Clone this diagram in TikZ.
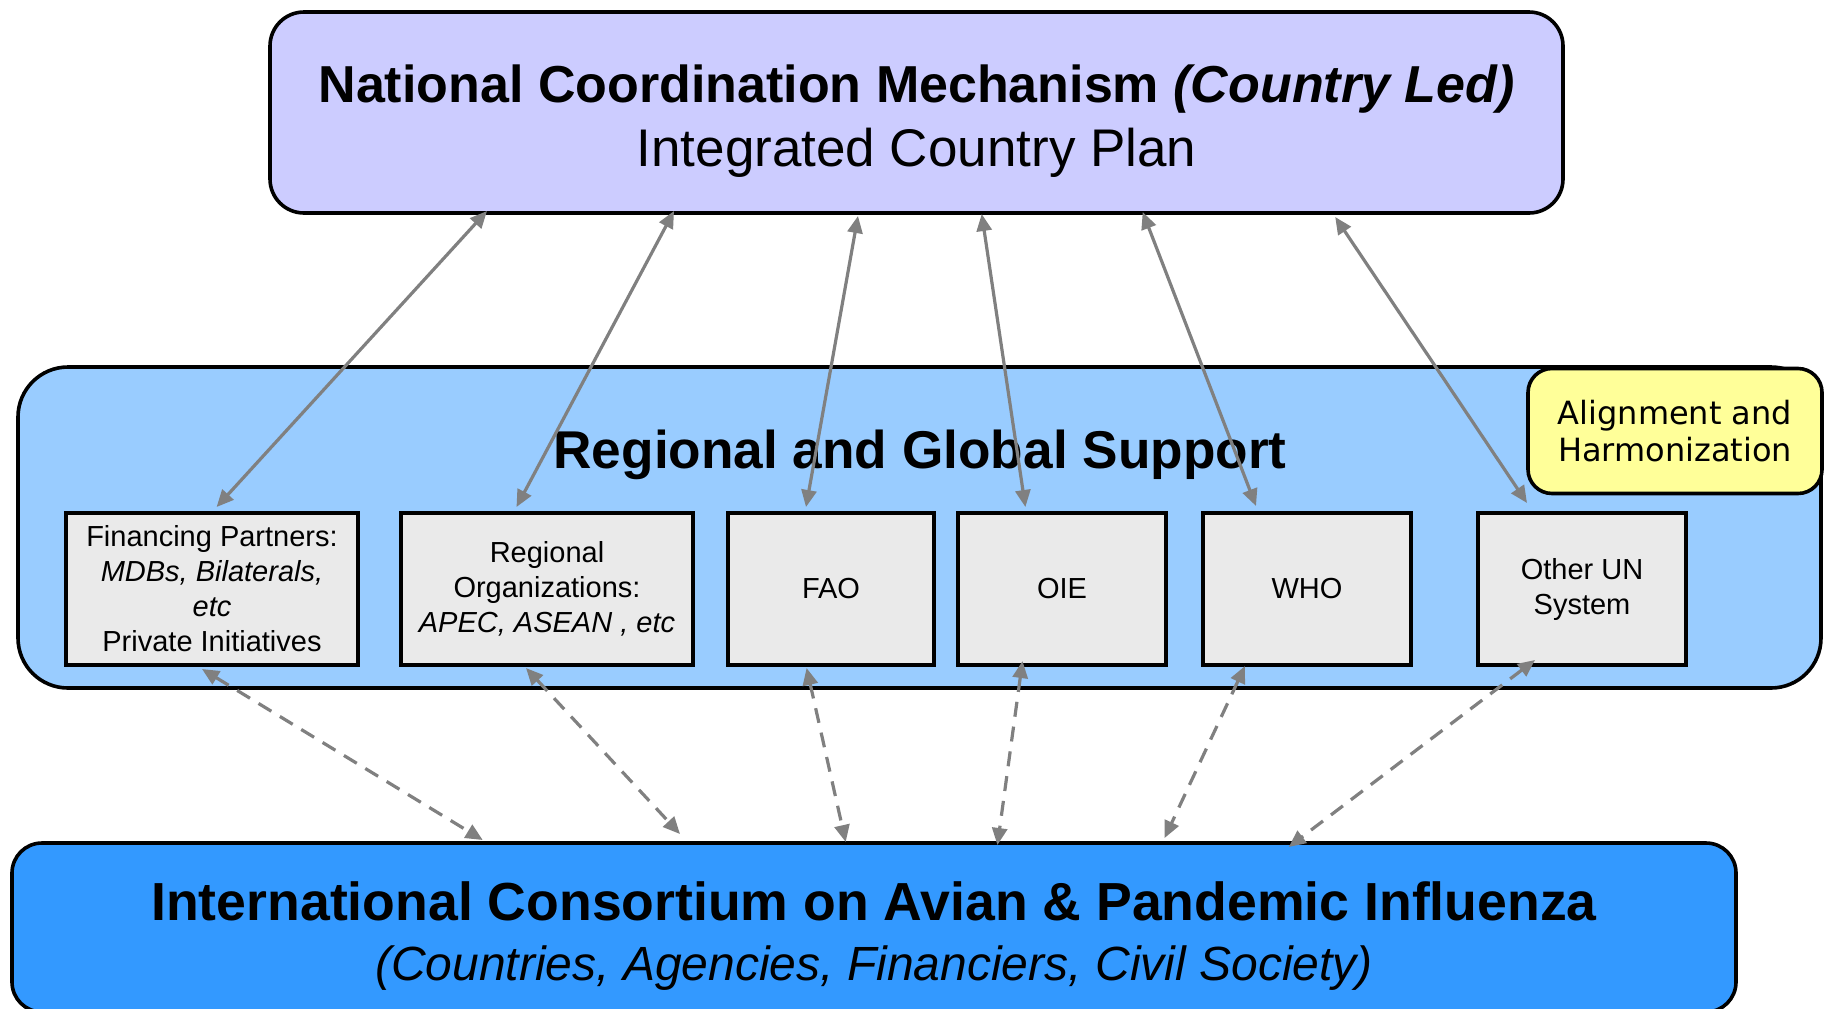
\documentclass[tikz,border=0pt]{standalone}
\usepackage{fontspec}
\setmainfont{Liberation Sans}
\newfontfamily\vfont{DejaVu Sans}
\usetikzlibrary{arrows.meta,calc}
\definecolor{topfill}{HTML}{CCCCFF}
\definecolor{midfill}{HTML}{99CCFF}
\definecolor{yelfill}{HTML}{FFFF99}
\definecolor{grayfill}{HTML}{EAEAEA}
\definecolor{botfill}{HTML}{3399FF}
\definecolor{arrowgray}{HTML}{808080}
\begin{document}
\begin{tikzpicture}[x=0.5pt,y=-0.5pt,
  box/.style={draw=black, line width=1.8pt, inner sep=0pt, outer sep=0pt, align=center},
  bigtext/.style={font=\fontsize{26.5pt}{32pt}\selectfont, align=center, inner sep=0pt},
  smallbox/.style={box, fill=grayfill, minimum height=76pt, font=\fontsize{14.5pt}{17.5pt}\selectfont},
  link/.style={draw=arrowgray, line width=1.6pt, >={Triangle[length=8.5pt,width=7.5pt]}, <->},
  dlink/.style={link, dash pattern=on 7.5pt off 5pt}]
\useasboundingbox (0,0) rectangle (1826,1008);

% middle container
\node[box, fill=midfill, rounded corners=25pt, minimum width=901.5pt, minimum height=160.5pt] (rgs) at (919.5,527.5) {};
\node[bigtext, font=\fontsize{26.6pt}{32pt}\selectfont\bfseries] (rgstitle) at (920,455) {Regional and Global Support};
\node[box, fill=yelfill, rounded corners=12pt, minimum width=147pt, minimum height=62.5pt,
      font=\vfont\fontsize{16pt}{18.75pt}\selectfont] (align) at (1675,431) {Alignment and\\Harmonization};

% small boxes
\node[smallbox, minimum width=146pt] (fin) at (212,589) {Financing Partners:\\\textit{MDBs, Bilaterals,}\\\textit{etc}\\Private Initiatives};
\node[smallbox, minimum width=146pt] (reg) at (547,589) {Regional\\Organizations:\\\textit{APEC, ASEAN , etc}};
\node[smallbox, minimum width=103pt] (fao) at (831,589) {FAO};
\node[smallbox, minimum width=104pt] (oie) at (1062,589) {OIE};
\node[smallbox, minimum width=104pt] (who) at (1307,589) {WHO};
\node[smallbox, minimum width=104pt] (oun) at (1582,589) {Other UN\\System};

% top box
\node[box, fill=topfill, rounded corners=17pt, minimum width=646.5pt, minimum height=100.5pt] (ncm) at (916.5,112.5) {};
\node[bigtext] (ncmtext) at (916.5,121)
  {{\fontsize{26pt}{32pt}\selectfont\bfseries National Coordination Mechanism \textit{(Country Led)}}\\Integrated Country Plan};

% bottom box
\node[box, fill=botfill, rounded corners=15pt, minimum width=862pt, minimum height=84.5pt] (icapi) at (874,927.5) {};
\node[bigtext] (icapitext) at (874,936)
  {{\fontsize{26.8pt}{32pt}\selectfont\bfseries International Consortium on Avian \& Pandemic Influenza}\\[-2pt]{\fontsize{24pt}{30pt}\selectfont\itshape (Countries, Agencies, Financiers, Civil Society)}};

% solid links
\draw[link] ($(ncm.south west)+(217,-2)$) -- ($(fin.north west)+(150.6,-6)$);
\draw[link] ($(ncm.south west)+(404,-2)$) -- ($(reg.north west)+(115.5,-6)$);
\draw[link] ($(ncm.south west)+(588,3)$) -- ($(fao.north west)+(78,-6)$);
\draw[link] ($(ncm.south west)+(711.7,1)$) -- ($(oie.north west)+(67.4,-6)$);
\draw[link] ($(ncm.south west)+(872.7,-1)$) -- ($(who.north west)+(53,-7)$);
\draw[link] ($(ncm.south west)+(1065.2,4)$) -- ($(oun.north west)+(49,-10)$);

% dashed links
\draw[dlink] ($(fin.south west)+(136,4)$) -- ($(icapi.north west)+(470.7,-3)$);
\draw[dlink] ($(reg.south west)+(125,3)$) -- ($(icapi.north west)+(668,-9)$);
\draw[dlink] ($(fao.south west)+(78.6,3)$) -- ($(icapi.north west)+(833.7,-1)$);
\draw[dlink] ($(oie.south west)+(64.5,-4)$) -- ($(icapi.north west)+(985.4,2)$);
\draw[dlink] ($(who.south west)+(42,1)$) -- ($(icapi.north west)+(1152.6,-5)$);
\draw[dlink] ($(oun.south west)+(57,-5)$) -- ($(icapi.north west)+(1276.7,4)$);
\end{tikzpicture}
\end{document}
